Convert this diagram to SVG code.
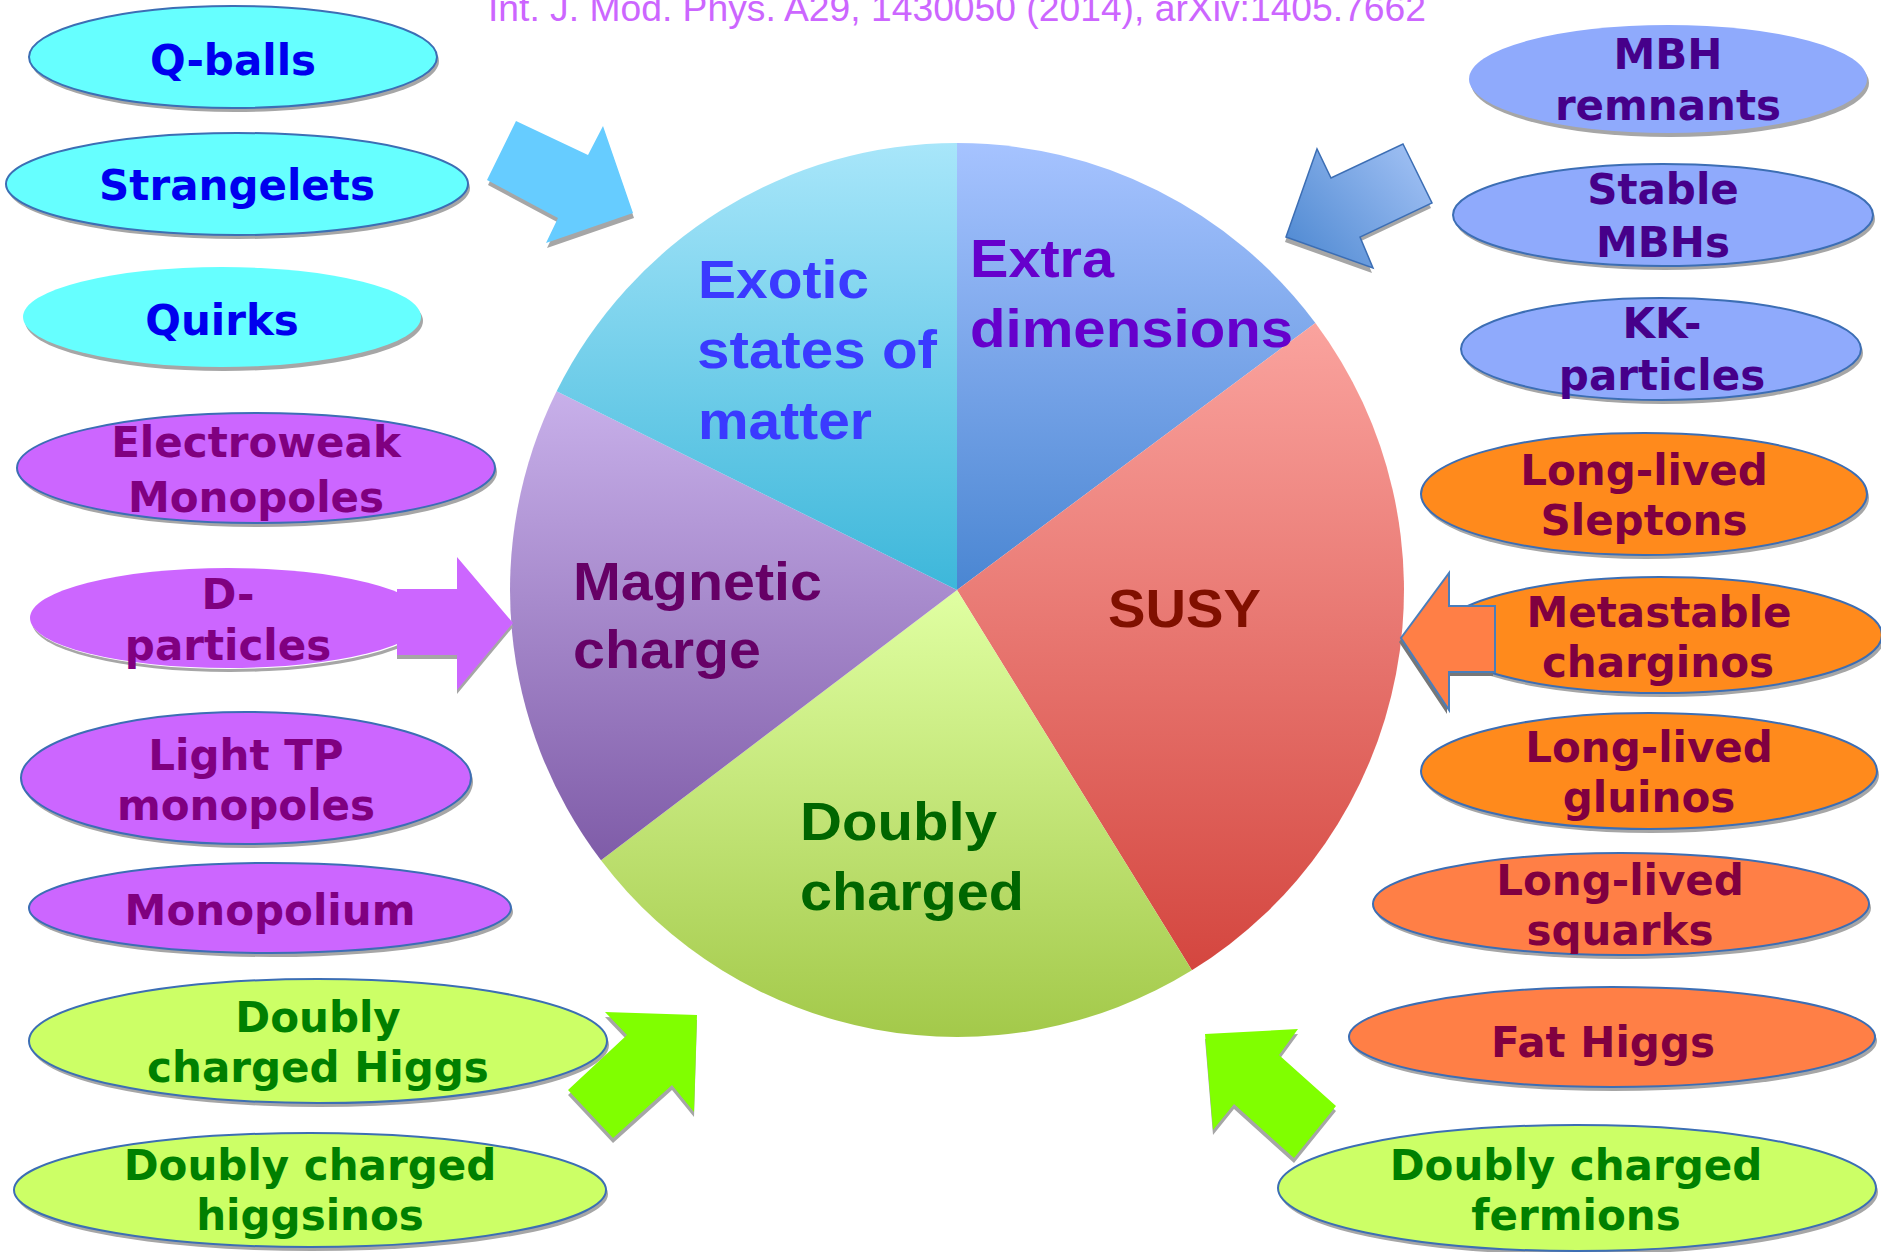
<svg xmlns="http://www.w3.org/2000/svg" width="1881" height="1252" viewBox="0 0 1881 1252">
<defs>
<style>
.lbl{font-family:"DejaVu Sans","Liberation Sans",sans-serif;font-weight:bold;font-size:42px;text-anchor:middle}
.pl{font-family:"Liberation Sans",Arial,sans-serif;font-weight:bold;font-size:54px}
.sh{fill:#a6a6a6}
.ol{stroke:#3c6eb4;stroke-width:2}
.cy{fill:#66ffff}.cyt{fill:#0000ee}
.pu{fill:#cc66ff}.put{fill:#800080}
.bl{fill:#8faafc}.blt{fill:#46008a}
.or{fill:#ff8a1c}.co{fill:#ff7f46}.ort{fill:#800040}
.gr{fill:#ccff66}.grt{fill:#008000}
</style>
<linearGradient id="gEx" x1="0" y1="143" x2="0" y2="590" gradientUnits="userSpaceOnUse"><stop offset="0" stop-color="#a8e6fa"/><stop offset="1" stop-color="#3db7da"/></linearGradient>
<linearGradient id="gEd" x1="0" y1="143" x2="0" y2="590" gradientUnits="userSpaceOnUse"><stop offset="0" stop-color="#a6c3ff"/><stop offset="1" stop-color="#4a86d2"/></linearGradient>
<linearGradient id="gSu" x1="0" y1="323" x2="0" y2="970" gradientUnits="userSpaceOnUse"><stop offset="0" stop-color="#faa39e"/><stop offset="1" stop-color="#d4463f"/></linearGradient>
<linearGradient id="gDc" x1="0" y1="590" x2="0" y2="1037" gradientUnits="userSpaceOnUse"><stop offset="0" stop-color="#e0ffa2"/><stop offset="1" stop-color="#a3c94a"/></linearGradient>
<linearGradient id="gMc" x1="0" y1="391" x2="0" y2="860" gradientUnits="userSpaceOnUse"><stop offset="0" stop-color="#c8b0ea"/><stop offset="1" stop-color="#7f5ca8"/></linearGradient>
<linearGradient id="gBa" x1="1432" y1="144" x2="1286" y2="268" gradientUnits="userSpaceOnUse"><stop offset="0" stop-color="#a6c4f6"/><stop offset="1" stop-color="#4a86d0"/></linearGradient>
</defs>
<rect width="1881" height="1252" fill="#ffffff"/>
<text x="488" y="21" font-family="Liberation Sans, Arial, sans-serif" font-size="37" fill="#cc66ff" textLength="938" lengthAdjust="spacingAndGlyphs">Int. J. Mod. Phys. A29, 1430050 (2014), arXiv:1405.7662</text>

<g id="pie">
<g id="sector-extra"><path d="M957,590 L957,143 A447,447 0 0 1 1315.4,322.9 Z" fill="url(#gEd)"/></g>
<g id="sector-susy"><path d="M957,590 L1315.4,322.9 A447,447 0 0 1 1191.9,970.3 Z" fill="url(#gSu)"/></g>
<g id="sector-doubly"><path d="M957,590 L1191.9,970.3 A447,447 0 0 1 601,860.3 Z" fill="url(#gDc)"/></g>
<g id="sector-magnetic"><path d="M957,590 L601,860.3 A447,447 0 0 1 556.6,391.3 Z" fill="url(#gMc)"/></g>
<g id="sector-exotic"><path d="M957,590 L556.6,391.3 A447,447 0 0 1 957,143 Z" fill="url(#gEx)"/></g>
<text class="pl" fill="#3a3aff"><tspan x="698" y="298" textLength="171" lengthAdjust="spacingAndGlyphs">Exotic</tspan><tspan x="697" y="368" textLength="240" lengthAdjust="spacingAndGlyphs">states of</tspan><tspan x="698" y="439" textLength="174" lengthAdjust="spacingAndGlyphs">matter</tspan></text>
<text class="pl" fill="#6600cc"><tspan x="970" y="277" textLength="144" lengthAdjust="spacingAndGlyphs">Extra</tspan><tspan x="970" y="347" textLength="323" lengthAdjust="spacingAndGlyphs">dimensions</tspan></text>
<text class="pl" fill="#660066"><tspan x="573" y="600" textLength="249" lengthAdjust="spacingAndGlyphs">Magnetic</tspan><tspan x="573" y="668" textLength="188" lengthAdjust="spacingAndGlyphs">charge</tspan></text>
<text class="pl" fill="#801000" x="1108" y="627" textLength="153" lengthAdjust="spacingAndGlyphs">SUSY</text>
<text class="pl" fill="#006600"><tspan x="800" y="840" textLength="197" lengthAdjust="spacingAndGlyphs">Doubly</tspan><tspan x="800" y="910" textLength="224" lengthAdjust="spacingAndGlyphs">charged</tspan></text>
</g>

<g id="n-qballs"><ellipse class="sh" cx="235" cy="61" rx="204" ry="51"/><ellipse class="cy ol" cx="233" cy="57" rx="204" ry="51"/><text class="lbl cyt" x="233" y="75">Q-balls</text></g>
<g id="n-strangelets"><ellipse class="sh" cx="239" cy="188" rx="231" ry="51"/><ellipse class="cy ol" cx="237" cy="184" rx="231" ry="51"/><text class="lbl cyt" x="237" y="200">Strangelets</text></g>
<g id="n-quirks"><ellipse class="sh" cx="224" cy="321" rx="199" ry="50"/><ellipse class="cy" cx="222" cy="317" rx="199" ry="50"/><text class="lbl cyt" x="222" y="335">Quirks</text></g>
<g id="n-ewmono"><ellipse class="sh" cx="258" cy="472" rx="239" ry="55"/><ellipse class="pu ol" cx="256" cy="468" rx="239" ry="55"/><text class="lbl put"><tspan x="256" y="457">Electroweak</tspan><tspan x="256" y="512">Monopoles</tspan></text></g>
<g id="n-dparticles"><ellipse class="sh" cx="230" cy="622" rx="198" ry="50"/><ellipse cx="229" cy="619" rx="198" ry="50" fill="#ffffff"/><ellipse class="pu" cx="228" cy="618" rx="198" ry="50"/><text class="lbl put"><tspan x="228" y="609">D-</tspan><tspan x="228" y="660">particles</tspan></text></g>
<g id="n-lighttp"><ellipse class="sh" cx="248" cy="782" rx="225" ry="66"/><ellipse class="pu ol" cx="246" cy="778" rx="225" ry="66"/><text class="lbl put"><tspan x="246" y="770">Light TP</tspan><tspan x="246" y="820">monopoles</tspan></text></g>
<g id="n-monopolium"><ellipse class="sh" cx="272" cy="912" rx="241" ry="45"/><ellipse class="pu ol" cx="270" cy="908" rx="241" ry="45"/><text class="lbl put" x="270" y="925">Monopolium</text></g>
<g id="n-dchiggs"><ellipse class="sh" cx="320" cy="1045" rx="289" ry="62"/><ellipse class="gr ol" cx="318" cy="1041" rx="289" ry="62"/><text class="lbl grt"><tspan x="318" y="1032">Doubly</tspan><tspan x="318" y="1082">charged Higgs</tspan></text></g>
<g id="n-dchiggsinos"><ellipse class="sh" cx="312" cy="1194" rx="296" ry="57"/><ellipse class="gr ol" cx="310" cy="1190" rx="296" ry="57"/><text class="lbl grt"><tspan x="310" y="1180">Doubly charged</tspan><tspan x="310" y="1230">higgsinos</tspan></text></g>

<g id="n-mbhrem"><ellipse class="sh" cx="1670" cy="83" rx="199" ry="54"/><ellipse class="bl" cx="1668" cy="79" rx="199" ry="54"/><text class="lbl blt"><tspan x="1668" y="69">MBH</tspan><tspan x="1668" y="120">remnants</tspan></text></g>
<g id="n-stablembh"><ellipse class="sh" cx="1665" cy="219" rx="210" ry="51"/><ellipse class="bl ol" cx="1663" cy="215" rx="210" ry="51"/><text class="lbl blt"><tspan x="1663" y="204">Stable</tspan><tspan x="1663" y="257">MBHs</tspan></text></g>
<g id="n-kk"><ellipse class="sh" cx="1663" cy="353" rx="200" ry="51"/><ellipse class="bl ol" cx="1661" cy="349" rx="200" ry="51"/><text class="lbl blt"><tspan x="1662" y="338">KK-</tspan><tspan x="1662" y="390">particles</tspan></text></g>
<g id="n-sleptons"><ellipse class="sh" cx="1646" cy="498" rx="223" ry="61"/><ellipse class="or ol" cx="1644" cy="494" rx="223" ry="61"/><text class="lbl ort"><tspan x="1644" y="485">Long-lived</tspan><tspan x="1644" y="535">Sleptons</tspan></text></g>
<g id="n-charginos"><ellipse class="sh" cx="1662" cy="639" rx="222" ry="58"/><ellipse class="or ol" cx="1660" cy="635" rx="222" ry="58"/><text class="lbl ort"><tspan x="1659" y="627">Metastable</tspan><tspan x="1658" y="677">charginos</tspan></text></g>
<g id="n-gluinos"><ellipse class="sh" cx="1651" cy="775" rx="228" ry="58"/><ellipse class="or ol" cx="1649" cy="771" rx="228" ry="58"/><text class="lbl ort"><tspan x="1649" y="762">Long-lived</tspan><tspan x="1649" y="812">gluinos</tspan></text></g>
<g id="n-squarks"><ellipse class="sh" cx="1623" cy="908" rx="248" ry="51"/><ellipse class="co ol" cx="1621" cy="904" rx="248" ry="51"/><text class="lbl ort"><tspan x="1620" y="895">Long-lived</tspan><tspan x="1620" y="945">squarks</tspan></text></g>
<g id="n-fathiggs"><ellipse class="sh" cx="1614" cy="1041" rx="263" ry="50"/><ellipse class="co ol" cx="1612" cy="1037" rx="263" ry="50"/><text class="lbl ort" x="1603" y="1057">Fat Higgs</text></g>
<g id="n-dcfermions"><ellipse class="sh" cx="1579" cy="1192" rx="299" ry="63"/><ellipse class="gr ol" cx="1577" cy="1188" rx="299" ry="63"/><text class="lbl grt"><tspan x="1576" y="1180">Doubly charged</tspan><tspan x="1576" y="1230">fermions</tspan></text></g>

<g id="connectors">
<g id="a-exotic">
<polygon points="516,121 588,155 603,126 633,213 546,243 558,218 487,180" fill="#a6a6a6" transform="translate(1,5)"/>
<polygon points="516,121 588,155 603,126 633,213 546,243 558,218 487,180" fill="#66ccff"/>
</g>
<g id="a-extra">
<polygon points="1403,144 1432,203 1360,237 1373,268 1286,237 1317,149 1331,178" fill="#a6a6a6" transform="translate(-1,5)"/>
<polygon points="1403,144 1432,203 1360,237 1373,268 1286,237 1317,149 1331,178" fill="url(#gBa)" stroke="#3c6eb4" stroke-width="1.5"/>
</g>
<g id="a-magnetic">
<polygon points="397,589 457,589 457,557 513,623 457,690 457,655 397,655" fill="#a6a6a6" transform="translate(0,4)"/>
<polygon points="397,589 457,589 457,557 513,623 457,690 457,655 397,655" fill="#cc66ff"/>
</g>
<g id="a-susy">
<polygon points="1495,606 1449,606 1449,573 1401,638 1449,710 1449,672 1495,672" fill="#777777" transform="translate(-2,4)"/>
<polygon points="1495,606 1449,606 1449,573 1401,638 1449,710 1449,672 1495,672" fill="#ff7f46" stroke="#4a7ebb" stroke-width="2"/>
</g>
<g id="a-doubly-left">
<polygon points="697,1015 694,1112 672,1085 613,1138 568,1090 627,1035 605,1012" fill="#a6a6a6" transform="translate(0,5)"/>
<polygon points="697,1015 694,1112 672,1085 613,1138 568,1090 627,1035 605,1012" fill="#80ff00"/>
</g>
<g id="a-doubly-right">
<polygon points="1205,1034 1298,1029 1279,1055 1336,1106 1294,1158 1234,1104 1213,1130" fill="#a6a6a6" transform="translate(0,5)"/>
<polygon points="1205,1034 1298,1029 1279,1055 1336,1106 1294,1158 1234,1104 1213,1130" fill="#80ff00"/>
</g>
</g>
</svg>
